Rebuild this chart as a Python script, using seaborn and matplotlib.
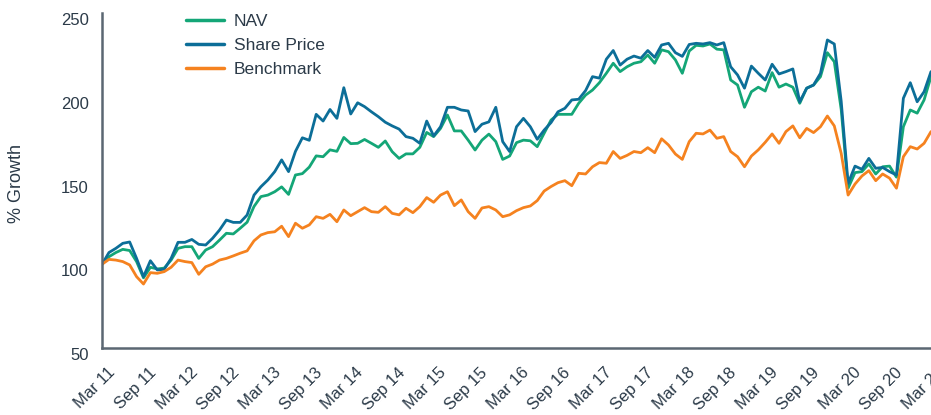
import numpy as np
import pandas as pd
import matplotlib
matplotlib.use("Agg")
import matplotlib.pyplot as plt
import matplotlib.transforms as mtransforms
import seaborn as sns

tick_labels = ["Mar 11", "Sep 11", "Mar 12", "Sep 12", "Mar 13", "Sep 13", "Mar 14",
               "Sep 14", "Mar 15", "Sep 15", "Mar 16", "Sep 16", "Mar 17", "Sep 17",
               "Mar 18", "Sep 18", "Mar 19", "Sep 19", "Mar 20", "Sep 20", "Mar 21"]

nav = [100, 104.5, 107.0, 108.9, 108.2, 101.6, 91.9, 98.2, 97.2, 97.7,
       102.5, 109.5, 110.5, 110.5, 103.5, 108.5, 110.5, 114.4, 118.5, 118.1,
       121.5, 125.1, 134.5, 140.4, 141.3, 143.3, 146.2, 141.7, 153.3, 154.1,
       158.0, 164.7, 164.2, 168.3, 167.4, 175.7, 172.0, 172.2, 174.5, 172.2,
       169.8, 173.6, 167.2, 163.2, 165.9, 165.9, 169.8, 178.7, 176.2, 181.1,
       189.1, 179.6, 179.6, 174.1, 168.2, 174.1, 177.7, 173.2, 162.6, 164.6,
       172.6, 174.1, 173.7, 170.2, 178.2, 186.1, 189.5, 189.5, 189.5, 196.1,
       201.0, 204.0, 208.4, 214.0, 220.0, 215.0, 217.9, 220.0, 220.9, 224.9,
       220.0, 228.0, 226.9, 222.0, 214.0, 227.3, 230.7, 230.3, 231.5, 228.4,
       228.0, 210.0, 207.0, 193.7, 203.0, 205.7, 203.4, 214.4, 205.7, 207.6,
       205.7, 196.1, 205.1, 207.0, 212.0, 226.3, 220.9, 192.4, 145.4, 154.7,
       155.3, 159.9, 153.9, 158.2, 158.6, 152.0, 182.1, 192.1, 190.2, 198.1,
       212.0]

share_price = [100, 107.0, 109.5, 112.5, 113.3, 103.5, 92.6, 102.1, 96.6, 97.0,
               103.5, 113.1, 113.1, 114.8, 111.9, 111.5, 115.5, 120.4, 126.4, 125.0,
               125.0, 129.4, 141.3, 146.3, 150.3, 155.3, 162.3, 155.3, 167.4, 175.5,
               174.0, 189.5, 185.5, 192.4, 187.1, 205.4, 189.7, 196.4, 194.1, 191.0,
               188.1, 184.8, 182.6, 180.7, 176.2, 175.2, 172.2, 185.5, 176.6, 182.1,
               193.7, 193.7, 192.1, 191.5, 179.2, 183.6, 185.0, 193.7, 173.2, 167.3,
               182.1, 187.1, 182.1, 174.6, 180.1, 184.6, 191.0, 193.1, 198.1, 198.5,
               203.7, 212.0, 211.1, 222.4, 227.6, 218.9, 222.4, 224.3, 223.0, 227.6,
               223.5, 230.9, 231.9, 226.3, 224.1, 231.2, 231.9, 231.5, 232.3, 230.9,
               232.3, 217.9, 213.0, 205.1, 218.3, 214.0, 210.0, 219.4, 213.6, 215.0,
               216.6, 197.0, 205.1, 207.0, 214.0, 233.9, 231.5, 197.3, 148.3, 158.6,
               156.7, 163.2, 157.3, 157.8, 155.3, 153.3, 199.1, 208.4, 197.0, 203.0,
               215.0]

benchmark = [100, 102.9, 102.5, 101.6, 99.6, 92.6, 88.2, 95.0, 94.6, 95.6,
             98.2, 102.5, 101.6, 101.0, 94.0, 98.5, 100.1, 102.5, 103.5, 105.0,
             106.6, 108.0, 114.0, 117.5, 118.9, 119.4, 122.7, 116.5, 124.5, 121.5,
             123.5, 128.4, 127.4, 129.8, 125.4, 132.4, 129.0, 131.4, 133.8, 131.4,
             131.0, 134.4, 130.4, 129.5, 133.4, 130.8, 134.4, 139.8, 137.0, 141.3,
             143.3, 135.0, 138.4, 131.4, 127.4, 133.6, 134.4, 132.4, 128.4, 129.5,
             132.0, 133.8, 134.8, 138.0, 143.7, 146.4, 148.7, 149.9, 146.9, 154.3,
             153.9, 158.2, 160.7, 160.3, 167.3, 163.2, 165.0, 167.3, 166.6, 169.6,
             166.6, 174.9, 171.2, 165.8, 162.6, 173.2, 178.2, 177.8, 180.1, 175.2,
             176.2, 167.3, 164.2, 158.2, 164.6, 168.3, 172.8, 177.8, 172.2, 179.2,
             182.6, 175.5, 181.1, 178.6, 182.1, 188.5, 182.6, 166.2, 141.3, 147.9,
             152.7, 155.9, 149.9, 153.9, 151.4, 145.4, 164.2, 170.2, 168.8, 172.2,
             179.2]

series_names = ["NAV", "Share Price", "Benchmark"]
colors = ["#14a677", "#0c6e98", "#f5821f"]

months = np.arange(len(nav))
df = pd.concat([
    pd.DataFrame({"month": months, "value": nav, "series": "NAV"}),
    pd.DataFrame({"month": months, "value": share_price, "series": "Share Price"}),
    pd.DataFrame({"month": months, "value": benchmark, "series": "Benchmark"}),
])

sns.set_theme(style="white")
plt.rcParams["font.family"] = ["Liberation Sans", "DejaVu Sans"]
text_color = "#2b3a48"
spine_color = "#5b6772"

fig = plt.figure(figsize=(9.31, 4.15), dpi=100)
ax = fig.add_axes([0.1096, 0.1614, 0.8904, 0.8073])

sns.lineplot(data=df, x="month", y="value", hue="series", hue_order=series_names,
             palette=colors, linewidth=2.0, ax=ax, legend=True)

ax.set_xlim(0, 120)
ax.set_ylim(50, 250)
ax.set_yticks([50, 100, 150, 200, 250])
ax.set_xticks(np.arange(0, 121, 6))
ax.set_xticklabels(tick_labels, rotation=45, ha="right", rotation_mode="anchor")
ax.tick_params(axis="both", length=0, labelsize=12, labelcolor=text_color)
ax.tick_params(axis="x", pad=12)
ax.tick_params(axis="y", pad=9.4)

ydown = mtransforms.ScaledTranslation(0, -0.06, fig.dpi_scale_trans)
for lab in ax.get_yticklabels():
    lab.set_transform(lab.get_transform() + ydown)
xshift = mtransforms.ScaledTranslation(0.05, 0, fig.dpi_scale_trans)
for lab in ax.get_xticklabels():
    lab.set_transform(lab.get_transform() + xshift)

ax.set_xlabel("")
ax.set_ylabel("% Growth", fontsize=13, color=text_color)
ax.yaxis.set_label_coords(-0.093, 0.49)

for s in ["top", "right"]:
    ax.spines[s].set_visible(False)
for s in ["left", "bottom"]:
    ax.spines[s].set_color(spine_color)
    ax.spines[s].set_linewidth(1.8)

leg = ax.legend(loc="upper left", bbox_to_anchor=(0.1998, 0.9667),
                bbox_transform=fig.transFigure, frameon=False,
                fontsize=12.5, handlelength=2.2, handletextpad=0.55,
                labelspacing=0.52, borderpad=0, borderaxespad=0)
for t in leg.get_texts():
    t.set_color(text_color)
for h in leg.get_lines():
    h.set_linewidth(2.5)

fig.savefig("out.png", dpi=100)
